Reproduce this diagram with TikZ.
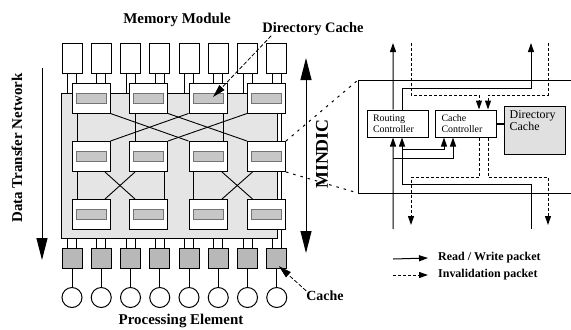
\documentclass[tikz,border=0pt]{standalone}
\usepackage{fontspec}
\setmainfont{Liberation Serif}
\usetikzlibrary{arrows.meta, positioning, calc, backgrounds}

\begin{document}
\begin{tikzpicture}[
  x=1bp, y=-1bp,
  lbl/.style={font=\fontsize{15}{17}\selectfont\bfseries, inner sep=0pt},
  mem/.style={draw, line width=1bp, fill=white, minimum width=20bp, minimum height=30bp, inner sep=0pt},
  sw/.style={draw, line width=1bp, fill=white, minimum width=38bp, minimum height=30bp, inner sep=0pt},
  bar/.style={draw=black!55, line width=1bp, fill=black!22, minimum width=30bp, minimum height=10bp, inner sep=0pt},
  cch/.style={draw, line width=1bp, fill=black!28, minimum size=20bp, inner sep=0pt},
  pe/.style={draw, line width=1bp, circle, minimum size=20bp, inner sep=0pt},
  net/.style={draw, line width=1bp, fill=black!10, minimum width=215bp, minimum height=145bp, inner sep=0pt},
  ctrl/.style={draw, line width=1bp, fill=white, minimum height=27bp, text width=49bp, inner xsep=6bp, inner ysep=0pt, align=left, font=\fontsize{10}{11}\selectfont},
  dcbox/.style={draw, line width=1bp, fill=black!12, minimum width=61bp, minimum height=48bp, inner sep=0pt},
  ln/.style={line width=0.9bp},
  big/.style={line width=1bp, -{Triangle[length=22bp,width=11bp]}},
  rw/.style={line width=1bp, -{Triangle[length=9bp,width=6bp]}},
  inv/.style={rw, dash pattern=on 3bp off 2bp},
  ptr/.style={line width=0.8bp, dash pattern=on 4bp off 2bp, -{Triangle[length=13bp,width=7bp]}},
  zoomln/.style={line width=1bp, dash pattern=on 2.5bp off 5bp},
]
\useasboundingbox (0,0) rectangle (571,329);

\foreach \i in {1,...,8}{
  \pgfmathsetmacro\cx{72+29.25*(\i-1)}
  \node[mem] (mem\i) at (\cx,58) {};
  \node[cch] (c\i) at (\cx,258) {};
  \node[pe] (pe\i) at (\cx,297.5) {};
  \draw[ln] (c\i.south) -- (pe\i.north);
}
\foreach \c/\x in {1/91,2/148.5,3/208,4/266.5}{
  \foreach \r/\y in {1/98,2/156.5,3/214.5}{
    \node[sw] (sw\r\c) at (\x,\y) {};
    \node[bar] (bar\r\c) at (\x,\y) {};
  }
}

\begin{pgfonlayer}{background}
  \node[net] (net) at (169.5,165.5) {};
  \foreach \i in {1,...,8}{
    \draw[ln] ([xshift=-4.5bp]mem\i.south) -- ([xshift=-4.5bp]mem\i.south |- net.north);
    \draw[ln] ([xshift=4.5bp]mem\i.south) -- ([xshift=4.5bp]mem\i.south |- net.north);
    \draw[ln] ([xshift=-4.5bp]c\i.north) -- ([xshift=-4.5bp]c\i.north |- net.south);
    \draw[ln] ([xshift=4.5bp]c\i.north) -- ([xshift=4.5bp]c\i.north |- net.south);
  }
  \draw[ln] ([xshift=-14bp]sw11.south) -- ([xshift=-14bp]sw31.north);
  \draw[ln] ([xshift=-13.5bp]sw12.south) -- ([xshift=-13.5bp]sw22.north);
  \draw[ln] ([xshift=15.5bp]sw22.south) -- ([xshift=15.5bp]sw32.north);
  \draw[ln] ([xshift=15bp]sw13.south) -- ([xshift=15bp]sw23.north);
  \draw[ln] ([xshift=-15bp]sw23.south) -- ([xshift=-15bp]sw33.north);
  \draw[ln] ([xshift=14.5bp]sw14.south) -- ([xshift=14.5bp]sw14.south |- c8.north);
  \draw[ln] (sw11.south east) -- (sw23.north west);
  \draw[ln] (sw12.south east) -- (sw24.north west);
  \draw[ln] (sw13.south west) -- (sw21.north east);
  \draw[ln] (sw14.south west) -- (sw22.north east);
  \draw[ln] ([xshift=14bp]sw21.south) -- ([xshift=-13.5bp]sw32.north);
  \draw[ln] ([xshift=-13.5bp]sw22.south) -- ([xshift=14bp]sw31.north);
  \draw[ln] ([xshift=14bp]sw23.south) -- ([xshift=-14bp]sw34.north);
  \draw[ln] ([xshift=-14bp]sw24.south) -- ([xshift=14bp]sw33.north);
\end{pgfonlayer}

\node[lbl] (memlbl) at (177,20) {Memory Module};
\node[lbl] (pelbl) at (181,321) {Processing Element};
\node[lbl, font=\fontsize{14.5}{16}\selectfont\bfseries] (dirlbl) at (313,29) {Directory Cache};
\node[lbl, font=\fontsize{14}{16}\selectfont\bfseries] (cachelbl) at (325,296) {Cache};
\node[lbl, rotate=90] (dtnlbl) at (17,148) {Data Transfer Network};
\node[lbl, rotate=90, font=\fontsize{18}{20}\selectfont\bfseries] (mindiclbl) at (322,154) {MINDIC};

\coordinate (dtntop) at (42,68);
\coordinate (dtnbot) at (42,260);
\draw[big] (dtntop) -- (dtnbot);
\coordinate (mtop) at (306,58);
\coordinate (mbot) at (306,253);
\draw[big, {Triangle[length=22bp,width=11bp]}-{Triangle[length=22bp,width=11bp]}] (mtop) -- (mbot);

\draw[ptr] ([xshift=9bp]dirlbl.south west) -- ($(bar13.center)+(5,-1)$);
\draw[ptr] (cachelbl.north west) -- ($(c8.center)+(2,8)$);

\coordinate (ftl) at (358,80);
\coordinate (fbl) at (358,193);
\coordinate (ftr) at (571,80);
\coordinate (fbr) at (571,193);
\draw[ln, line width=1bp] (ftr) -- (ftl) -- (fbl) -- (fbr);
\draw[zoomln] (sw24.north east) -- (ftl);
\draw[zoomln] (sw24.south east) -- (fbl);

\node[ctrl] (rc) at (397.5,123.5) {Routing\\Controller};
\node[ctrl] (cc) at (466,123.5) {Cache\\Controller};
\node[dcbox] (dc) at (534.5,130) {};
\node[anchor=north west, inner sep=0pt, align=left, font=\fontsize{12}{12}\selectfont] (dctxt) at ($(dc.north west)+(6,5)$) {Directory\\Cache};
\draw[line width=2bp] (cc.east) -- (dc.west |- cc.east);

\coordinate (rwin1) at (393,229);
\coordinate (rwin2) at (531,229);
\coordinate (rwout1) at (393,43);
\coordinate (rwout2) at (531,43);
\coordinate (invin1) at (411,43);
\coordinate (invin2) at (548,43);
\coordinate (invout1) at (411,225);
\coordinate (invout2) at (548,225);

\draw[rw] (rwin1) -- ([xshift=-4.5bp]rc.south);
\draw[rw] (rwin1 |- 0,158) -| ([xshift=-13bp]cc.south);
\draw[rw] (rwin2) |- ([xshift=4.5bp]rc.south |- 0,184) -- ([xshift=4.5bp]rc.south);
\draw[rw] ([xshift=4.5bp]rc.south |- 0,149) -| ([xshift=-22bp]cc.south);
\draw[rw] ([xshift=-4.5bp]rc.north) -- (rwout1);
\draw[rw] ([xshift=4.5bp]rc.north) |- (rwout2 |- 0,88) -- (rwout2);
\draw[inv] (invin1) |- ([xshift=13bp]cc.north |- 0,95) -- ([xshift=13bp]cc.north);
\draw[inv] (invin2) |- ([xshift=22bp]cc.north |- 0,95) -- ([xshift=22bp]cc.north);
\draw[inv] ([xshift=13bp]cc.south) |- (invout1 |- 0,177) -- (invout1);
\draw[inv] ([xshift=22bp]cc.south) |- (invout2 |- 0,177) -- (invout2);

\coordinate (lg1) at (393,259);
\coordinate (lg2) at (393,275);
\node[lbl, font=\fontsize{12}{14}\selectfont\bfseries, anchor=west] (rwlbl) at (438,258) {Read / Write packet};
\node[lbl, font=\fontsize{12}{14}\selectfont\bfseries, anchor=west] (invlbl) at (438,275) {Invalidation packet};
\draw[rw] (lg1) -- (rwlbl.west -| 428,0);
\draw[inv] (lg2) -- (invlbl.west -| 428,0);
\end{tikzpicture}
\end{document}
